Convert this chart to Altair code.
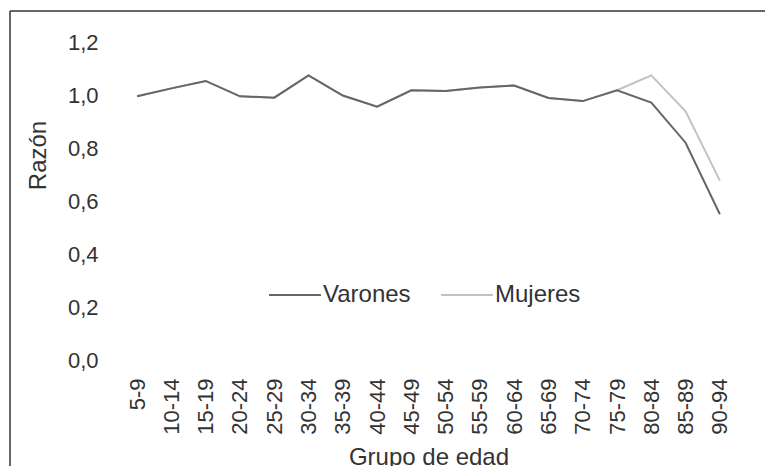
import altair as alt
import pandas as pd

grupos = ["5-9", "10-14", "15-19", "20-24", "25-29", "30-34", "35-39", "40-44",
          "45-49", "50-54", "55-59", "60-64", "65-69", "70-74", "75-79",
          "80-84", "85-89", "90-94"]
varones = [0.995, 1.025, 1.053, 0.995, 0.990, 1.074, 0.998, 0.956,
           1.018, 1.015, 1.028, 1.036, 0.989, 0.977, 1.018,
           0.971, 0.820, 0.550]
mujeres = [0.995, 1.025, 1.053, 0.995, 0.990, 1.074, 0.998, 0.956,
           1.018, 1.015, 1.028, 1.036, 0.989, 0.977, 1.018,
           1.074, 0.938, 0.677]
series = ["Varones", "Mujeres"]
colores = ["#666666", "#c2c2c2"]
y_ticks = [0.0, 0.2, 0.4, 0.6, 0.8, 1.0, 1.2]

df = pd.DataFrame(
    [{"grupo": g, "serie": "Varones", "razon": v} for g, v in zip(grupos, varones)]
    + [{"grupo": g, "serie": "Mujeres", "razon": v} for g, v in zip(grupos, mujeres)]
)

FONT = "Liberation Sans"
TXT = "#333333"

x_enc = alt.X(
    "grupo:N",
    sort=grupos,
    scale=alt.Scale(type="point", padding=0.5),
    axis=alt.Axis(
        title="Grupo de edad",
        labelAngle=270,
        labelPadding=18,
        labelFontSize=22,
        labelColor=TXT,
        labelFont=FONT,
        titleFont=FONT,
        titleFontSize=24,
        titleFontWeight="normal",
        titleColor=TXT,
        titleBaseline="alphabetic",
        titleY=104,
        domain=False,
        ticks=False,
        grid=False,
    ),
)
y_enc = alt.Y(
    "razon:Q",
    scale=alt.Scale(domain=[0, 1.2], nice=False),
    axis=alt.Axis(
        title="Razón",
        values=y_ticks,
        labelExpr="replace(format(datum.value, '.1f'), '.', ',')",
        labelPadding=22,
        labelFontSize=22,
        labelColor=TXT,
        labelFont=FONT,
        titleFont=FONT,
        titleFontSize=24,
        titleFontWeight="normal",
        titleColor=TXT,
        titleAngle=270,
        titleAlign="center",
        titleBaseline="middle",
        titleX=-82,
        titleY=113,
        domain=False,
        ticks=False,
        grid=False,
    ),
)
color_enc = alt.Color(
    "serie:N",
    scale=alt.Scale(domain=series, range=colores),
    legend=alt.Legend(
        title=None,
        orient="none",
        direction="horizontal",
        legendX=148,
        legendY=226,
        symbolType="stroke",
        symbolSize=2700,
        symbolStrokeWidth=2,
        labelFont=FONT,
        labelFontSize=24,
        labelColor=TXT,
        labelOffset=1,
        columnPadding=26,
        padding=0,
    ),
)

base = alt.Chart(df)
line_m = base.transform_filter(alt.datum.serie == "Mujeres").mark_line(strokeWidth=2).encode(
    x=x_enc, y=y_enc, color=color_enc
)
line_v = base.transform_filter(alt.datum.serie == "Varones").mark_line(strokeWidth=2).encode(
    x=x_enc, y=y_enc, color=color_enc
)

frame = alt.Data(values=[{}])
top_border = alt.Chart(frame).mark_rule(color="#333333", strokeWidth=1.5).encode(
    x=alt.value(-110), x2=alt.value(650), y=alt.value(-31)
)
left_border = alt.Chart(frame).mark_rule(color="#333333", strokeWidth=1.5).encode(
    x=alt.value(-110), y=alt.value(-31), y2=alt.value(430)
)

chart = (
    alt.layer(line_m, line_v, top_border, left_border)
    .properties(
        width=617,
        height=318,
        autosize=alt.AutoSizeParams(type="none"),
        padding={"left": 120, "top": 42, "right": 28, "bottom": 106},
        background="white",
    )
    .configure_view(stroke=None)
)

chart.save("out.html", embed_options={"renderer": "svg", "actions": False})
